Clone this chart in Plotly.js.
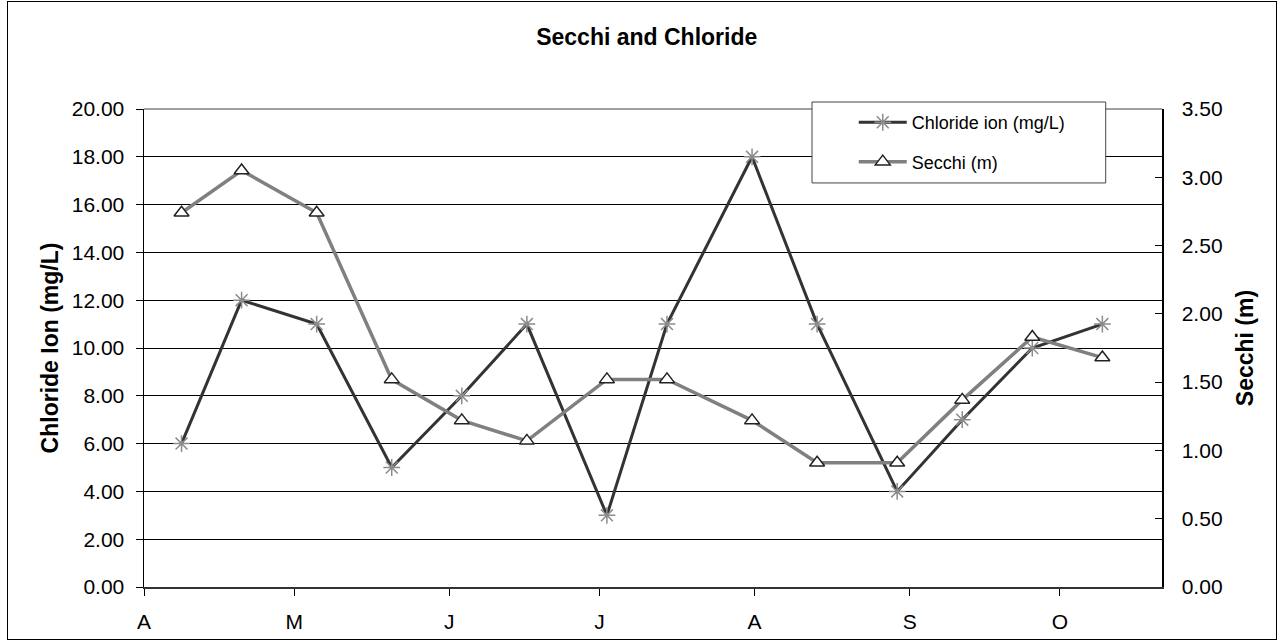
<!DOCTYPE html>
<html>
<head>
<meta charset="utf-8">
<script src="https://cdn.plot.ly/plotly-3.0.1.min.js"></script>
<style>
  html, body { margin: 0; padding: 0; background: #ffffff; }
  #chart { width: 1285px; height: 643px; position: relative; }
  #frame { position: absolute; left: 7px; top: 1px; width: 1270px; height: 639px;
           border: 1px solid #000; pointer-events: none; box-sizing: border-box; }
</style>
</head>
<body>
<div id="chart"><div id="frame"></div></div>
<script>
// Sampling dates (one visit per row), shared by both series
const sampleDates = [
  '2006-04-08', '2006-04-20', '2006-05-05', '2006-05-20', '2006-06-03',
  '2006-06-16', '2006-07-02', '2006-07-14', '2006-07-31', '2006-08-13',
  '2006-08-29', '2006-09-11', '2006-09-25', '2006-10-09'
];
// Chloride ion concentration, mg/L
const chloride = [6, 12, 11, 5, 8, 11, 3, 11, 18, 11, 4, 7, 10, 11];
// Secchi depth, m
const secchi = [2.74, 3.05, 2.74, 1.52, 1.22, 1.07, 1.52, 1.52, 1.22, 0.91, 0.91, 1.37, 1.83, 1.68];

// Month tick marks along the date axis
const monthStarts = ['2006-04-01', '2006-05-01', '2006-06-01', '2006-07-01',
                     '2006-08-01', '2006-09-01', '2006-10-01'];
const monthLabels = ['A', 'M', 'J', 'J', 'A', 'S', 'O'];

// Each sample is drawn in the middle of its day, between the day boundaries
const xMid = sampleDates.map(d => d + ' 12:00');

const FONT = 'Liberation Sans, Arial, Helvetica, sans-serif';

const traces = [
  {
    name: 'Chloride ion (mg/L)',
    x: xMid, y: chloride,
    type: 'scatter', mode: 'lines+markers',
    yaxis: 'y', legendgroup: 'cl',
    line: { color: '#333333', width: 3 },
    marker: { symbol: 'asterisk-open', size: 14, color: '#8c8c8c',
              line: { color: '#8c8c8c', width: 1.5 } }
  },
  {
    name: 'Secchi (m)',
    x: xMid, y: secchi,
    type: 'scatter', mode: 'lines+markers',
    yaxis: 'y2', legendgroup: 'sd',
    line: { color: '#808080', width: 3.5 },
    marker: { symbol: 'triangle-up', size: 13, color: '#ffffff',
              line: { color: '#222222', width: 1.5 } }
  }
];

const layout = {
  width: 1285, height: 643,
  paper_bgcolor: 'rgba(0,0,0,0)', plot_bgcolor: '#ffffff',
  margin: { l: 144, r: 123, t: 109, b: 56, pad: 0 },
  font: { family: FONT, size: 21, color: '#000000' },
  showlegend: true,
  title: {
    text: '<b>Secchi and Chloride</b>',
    font: { family: FONT, size: 23, color: '#000000' },
    xref: 'container', yref: 'container',
    x: 0.5033, xanchor: 'center', y: 0.943, yanchor: 'middle'
  },
  xaxis: {
    type: 'date',
    range: ['2006-04-01', '2006-10-21 10:00'],
    tickmode: 'array', tickvals: monthStarts, ticktext: monthLabels,
    ticks: 'outside', ticklen: 7, tickwidth: 1, tickcolor: '#000',
    ticklabelstandoff: 8,
    showgrid: false, zeroline: false,
    showline: true, linecolor: '#333333', linewidth: 2,
    tickfont: { family: FONT, size: 21, color: '#000' }
  },
  yaxis: {
    range: [0, 20], dtick: 2, tick0: 0, tickformat: '.2f',
    ticks: 'outside', ticklen: 7, tickwidth: 1, tickcolor: '#000',
    ticklabelstandoff: 7,
    showgrid: true, gridcolor: '#000000', gridwidth: 1,
    zeroline: false, showline: true, linecolor: '#000000', linewidth: 1.5,
    tickfont: { family: FONT, size: 21, color: '#000' },
    title: { text: '<b>Chloride Ion (mg/L)</b>', standoff: 6,
             font: { family: FONT, size: 23, color: '#000' } }
  },
  yaxis2: {
    overlaying: 'y', side: 'right',
    range: [0, 3.5], dtick: 0.5, tick0: 0, tickformat: '.2f',
    ticks: 'inside', ticklen: 7, tickwidth: 1, tickcolor: '#000',
    ticklabelstandoff: 14,
    showgrid: false, zeroline: false,
    showline: true, linecolor: '#000000', linewidth: 1.5,
    tickfont: { family: FONT, size: 21, color: '#000' },
    title: { text: '<b>Secchi (m)</b>', standoff: 15,
             font: { family: FONT, size: 23, color: '#000' } }
  },
  legend: {
    x: 0.6972, xanchor: 'left', y: 1.0104, yanchor: 'top',
    bgcolor: 'rgba(0,0,0,0)', borderwidth: 0,
    font: { family: FONT, size: 18, color: '#000' },
    tracegroupgap: 13, itemwidth: 48
  },
  shapes: [
    // plot area top edge
    { type: 'line', xref: 'paper', yref: 'paper', x0: 0, x1: 1, y0: 1, y1: 1,
      line: { color: '#808080', width: 1.5 }, layer: 'above' },
    // legend box
    { type: 'rect', xref: 'paper', yref: 'paper',
      x0: 0.6562, x1: 0.9447, y0: 0.8453, y1: 1.0146,
      fillcolor: '#ffffff', line: { color: '#444444', width: 1 }, layer: 'above' }
  ]
};

Plotly.newPlot('chart', traces, layout, { displayModeBar: false, staticPlot: true });
</script>
</body>
</html>
